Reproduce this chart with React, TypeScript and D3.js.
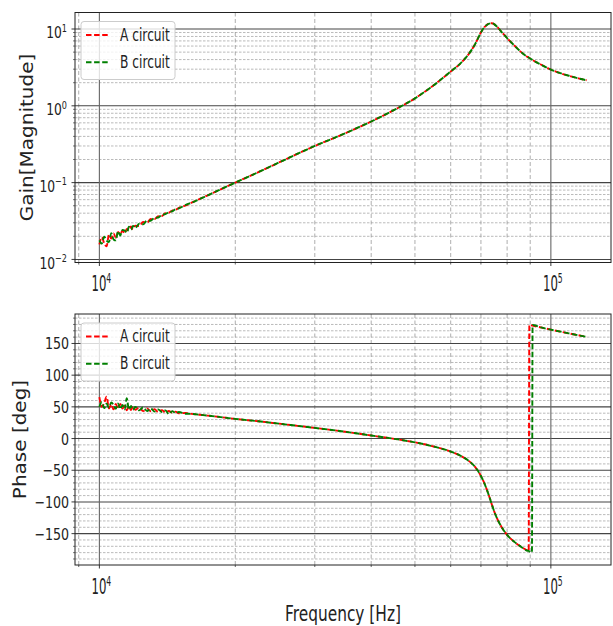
import React from 'react';
import * as d3 from 'd3';

// ---------- data ----------
const freqLow = [10000, 10125, 10250, 10375, 10500, 10625, 10750, 10875, 11000, 11125, 11250, 11375, 11500, 11625, 11750, 11875, 12000, 12250, 12500, 12750, 13000, 13250, 13500, 13750, 14000, 14250, 14500, 14750, 15000, 15500, 16000];
const freqHigh = [17000, 18000, 20000, 22500, 25000, 27500, 30000, 35000, 40000, 45000, 50000, 55000, 60000, 63000, 66000, 68000, 70000, 71000, 72000, 73000, 74000, 75000, 76000, 78000, 80000, 83000, 86000, 89000, 89300, 89600, 90800, 91100, 95000, 100000, 105000, 110000, 115000, 120000];

const gainLowA = [0.01572, 0.01953, 0.01618, 0.01483, 0.02101, 0.01869, 0.02187, 0.01918, 0.02275, 0.02119, 0.02384, 0.02193, 0.02493, 0.02389, 0.02681, 0.02467, 0.02746, 0.02723, 0.03071, 0.03009, 0.03356, 0.03348, 0.03651, 0.03673, 0.03998, 0.04057, 0.04323, 0.04422, 0.04706, 0.05005, 0.05474];
const gainLowB = [0.01775, 0.01604, 0.01978, 0.01761, 0.01681, 0.02203, 0.01823, 0.01772, 0.02318, 0.02053, 0.02429, 0.0238, 0.02229, 0.0266, 0.02453, 0.02727, 0.02559, 0.02919, 0.02864, 0.03195, 0.03193, 0.03484, 0.03507, 0.03823, 0.03881, 0.04139, 0.04237, 0.04512, 0.04612, 0.05107, 0.05474];
const gainHigh = [0.0644, 0.0752, 0.1, 0.137, 0.183, 0.238, 0.3, 0.438, 0.625, 0.885, 1.25, 1.85, 2.8, 3.55, 4.85, 6.4, 9.0, 10.3, 11.2, 11.75, 11.9, 11.5, 10.7, 9.0, 7.6, 6.1, 5.0, 4.3, 4.25, 4.2, 4.0, 3.95, 3.45, 2.97, 2.66, 2.45, 2.28, 2.15];

const phaseLowA = [65.5, 50.0, 56.0, 66.0, 47.5, 54.0, 46.0, 54.5, 47.0, 54.5, 47.3, 52.0, 44.7, 50.3, 45.0, 50.7, 45.4, 48.8, 43.2, 47.6, 43.0, 46.5, 41.9, 44.9, 41.4, 43.4, 40.9, 42.4, 39.9, 40.4, 38.9];
const phaseLowB = [50.0, 57.5, 48.0, 55.0, 49.0, 57.0, 53.0, 47.0, 55.5, 46.5, 53.0, 46.0, 63.5, 45.5, 51.5, 45.2, 50.0, 44.5, 49.0, 43.5, 47.5, 42.5, 46.0, 41.8, 44.5, 38.5, 43.2, 40.2, 41.9, 39.2, 38.9];
const phaseHighA = [36.9, 35.0, 31.0, 27.2, 23.5, 20.0, 16.8, 10.8, 4.8, -0.5, -6.0, -12.5, -20.5, -27, -36, -45, -59, -68, -79, -91, -104, -116, -126, -141, -152, -163, -171, -177.2, -177.8, 179.6, 178.4, 178.1, 175.3, 171.8, 168.6, 165.7, 163.0, 160.5];
const phaseHighB = [36.9, 35.0, 31.0, 27.2, 23.5, 20.0, 16.8, 10.8, 4.8, -0.5, -6.0, -12.5, -20.5, -27, -36, -45, -59, -68, -79, -91, -104, -116, -126, -141, -152, -163, -171, -177.2, -177.3, -178.0, -179.7, 179.2, 175.3, 171.8, 168.6, 165.7, 163.0, 160.5];

const seriesNames = ['A circuit', 'B circuit'];
const seriesColors = ['#ff0000', '#008000'];

const gainTicks = [0.01, 0.1, 1, 10];
const gainExps = ['\u22122', '\u22121', '0', '1'];
const phaseTicks = [-150, -100, -50, 0, 50, 100, 150];
const freqTicks = [1e4, 1e5];
const freqExps = ['4', '5'];

// ---------- layout ----------
const W = 613, H = 626;
const L = 75, R = 611;
const T1 = 12.5, B1 = 262.5;
const T2 = 314, B2 = 565;
const FONT = 'DejaVu Sans';

const freqs = [...freqLow, ...freqHigh];
const gainA = [...gainLowA, ...gainHigh];
const gainB = [...gainLowB, ...gainHigh];
const phaseA = [...phaseLowA, ...phaseHighA];
const phaseB = [...phaseLowB, ...phaseHighB];

const x = d3.scaleLog().domain([Math.pow(10, 3.946), Math.pow(10, 5.1332)]).range([L, R]);
const yG = d3.scaleLog().domain([Math.pow(10, -2.04), Math.pow(10, 1.215)]).range([B1, T1]);
const yP = d3.scaleLinear().domain([-199.5, 196.5]).range([B2, T2]);

const xMinor: number[] = [9000, 20000, 30000, 40000, 50000, 60000, 70000, 80000, 90000];
const gMinor: number[] = [];
for (let k = -3; k <= 1; k++) {
  for (let m = 2; m <= 9; m++) {
    const v = m * Math.pow(10, k);
    const [lo, hi] = yG.domain();
    if (v > lo && v < hi) gMinor.push(v);
  }
}
const pMinor: number[] = d3.range(-190, 191, 10).filter((v) => v % 50 !== 0);

function Panel({ top, bottom, y, majors, minors, data, ylabelX, ylabel, gain }: any) {
  const line = d3
    .line<[number, number]>()
    .x((d) => x(d[0]))
    .y((d) => y(d[1]))
    .curve(d3.curveMonotoneX);
  const clipId = gain ? 'clipG' : 'clipP';
  return (
    <g>
      <defs>
        <clipPath id={clipId}>
          <rect x={L} y={top} width={R - L} height={bottom - top} />
        </clipPath>
      </defs>
      <rect x={L} y={top} width={R - L} height={bottom - top} fill="#fff" />
      {/* minor grid */}
      {minors.map((v: number, i: number) => (
        <line key={'hm' + i} x1={L} x2={R} y1={y(v)} y2={y(v)} stroke="#a8a8a8" strokeWidth={0.8} strokeDasharray="2.5,1.5" />
      ))}
      {xMinor.map((v, i) => (
        <line key={'vm' + i} x1={x(v)} x2={x(v)} y1={top} y2={bottom} stroke="#999" strokeWidth={0.8} strokeDasharray="4,2.5" />
      ))}
      {/* major grid */}
      {majors.map((v: number, i: number) => (
        <line key={'hM' + i} x1={L} x2={R} y1={y(v)} y2={y(v)} stroke="#444" strokeWidth={1.1} />
      ))}
      {freqTicks.map((v, i) => (
        <line key={'vM' + i} x1={x(v)} x2={x(v)} y1={top} y2={bottom} stroke="#666" strokeWidth={1.1} />
      ))}
      {/* data */}
      <g clipPath={`url(#${clipId})`}>
        {data.map((s: any, i: number) => (
          <path key={i} d={line(freqs.map((f, j) => [f, s[j]]) as any) || ''} fill="none" stroke={seriesColors[i]} strokeWidth={1.9} strokeDasharray="5.5,2.6" />
        ))}
      </g>
      {/* spines */}
      <rect x={L} y={top} width={R - L} height={bottom - top} fill="none" stroke="#222" strokeWidth={1} />
      {/* x ticks */}
      {freqTicks.map((v, i) => (
        <line key={'xt' + i} x1={x(v)} x2={x(v)} y1={bottom} y2={bottom + 3.5} stroke="#222" strokeWidth={0.9} />
      ))}
      {xMinor.map((v, i) => (
        <line key={'xtm' + i} x1={x(v)} x2={x(v)} y1={bottom} y2={bottom + 2} stroke="#222" strokeWidth={0.7} />
      ))}
      {freqTicks.map((v, i) => (
        <text key={'xl' + i} transform={`translate(${x(v) + 2},${bottom + 28.5}) scale(0.57,1)`} textAnchor="middle" fontFamily={FONT} fontSize={20.5} fill="#222">
          10<tspan dy={-8} fontSize={13.5}>{freqExps[i]}</tspan>
        </text>
      ))}
      {/* y ticks */}
      {majors.map((v: number, i: number) => (
        <line key={'yt' + i} x1={L - 3.5} x2={L} y1={y(v)} y2={y(v)} stroke="#222" strokeWidth={0.9} />
      ))}
      {minors.map((v: number, i: number) => (
        <line key={'ytm' + i} x1={L - 2} x2={L} y1={y(v)} y2={y(v)} stroke="#222" strokeWidth={0.6} />
      ))}
      {majors.map((v: number, i: number) =>
        gain ? (
          <text key={'yl' + i} transform={`translate(${67},${y(v) + 9.3}) scale(0.77,1)`} textAnchor="end" fontFamily={FONT} fontSize={16} fill="#222">
            10<tspan dy={-6.6} fontSize={10.5}>{gainExps[i]}</tspan>
          </text>
        ) : (
          <text key={'yl' + i} transform={`translate(${69},${y(v) + 6}) scale(0.79,1)`} textAnchor="end" fontFamily={FONT} fontSize={16} fill="#222">
            {v < 0 ? '\u2212' + Math.abs(v) : String(v)}
          </text>
        )
      )}
      {/* y label */}
      <text transform={`translate(${ylabelX},${(top + bottom) / 2}) scale(0.87,1) rotate(-90)`} textAnchor="middle" dominantBaseline="central" fontFamily={FONT} fontSize={20} fill="#222">
        {ylabel}
      </text>
      {/* legend */}
      <g>
        <rect x={81} y={top + 9} width={94} height={58} rx={3} fill="#fff" fillOpacity={0.8} stroke="#cccccc" strokeWidth={1} />
        {seriesNames.map((n, i) => {
          const ly = top + 22.5 + i * 27.3;
          return (
            <g key={n}>
              <line x1={86} x2={109} y1={ly} y2={ly} stroke={seriesColors[i]} strokeWidth={1.9} strokeDasharray="5.5,2.6" />
              <text transform={`translate(120,${ly + 5.5}) scale(0.72,1)`} fontFamily={FONT} fontSize={17} fill="#222">
                {n}
              </text>
            </g>
          );
        })}
      </g>
    </g>
  );
}

export default function App() {
  return (
    <svg width={W} height={H} viewBox={`0 0 ${W} ${H}`} style={{ display: 'block', position: 'absolute', left: 0, top: 0, background: '#fff' }}>
      <rect width={W} height={H} fill="#fff" />
      <Panel top={T1} bottom={B1} y={yG} majors={gainTicks} minors={gMinor} data={[gainA, gainB]} ylabelX={27} ylabel="Gain[Magnitude]" gain />
      <Panel top={T2} bottom={B2} y={yP} majors={phaseTicks} minors={pMinor} data={[phaseA, phaseB]} ylabelX={20} ylabel="Phase [deg]" />
      <text transform={`translate(${(L + R) / 2},${621}) scale(0.7,1)`} textAnchor="middle" fontFamily={FONT} fontSize={22} fill="#222">
        Frequency [Hz]
      </text>
    </svg>
  );
}
